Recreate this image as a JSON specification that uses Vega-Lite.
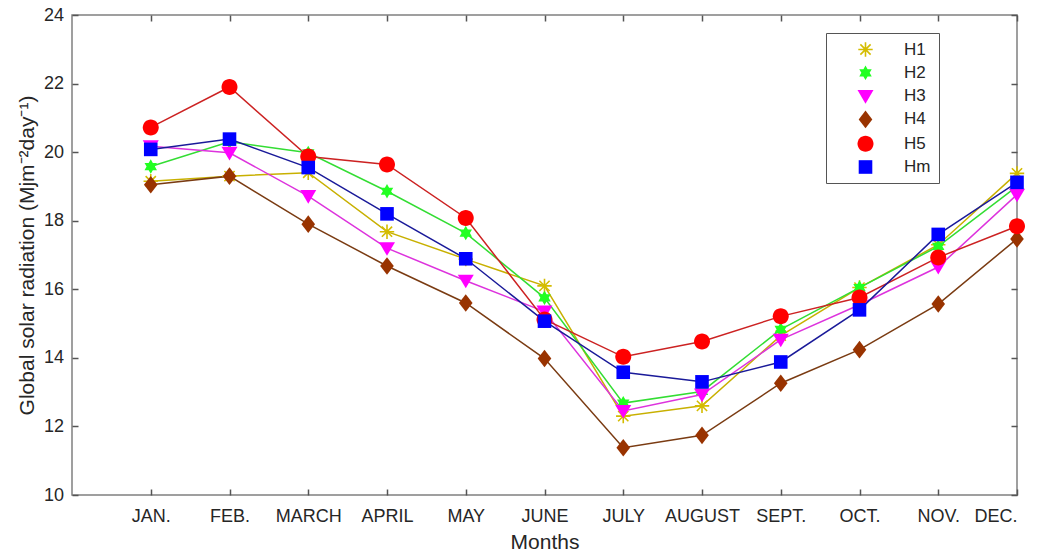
{
  "$schema": "https://vega.github.io/schema/vega-lite/v6.json",
  "width": 945,
  "height": 480,
  "autosize": {"type": "none"},
  "padding": {"left": 72, "top": 15, "right": 22, "bottom": 58},
  "background": "white",
  "config": {
    "view": {"stroke": "#808080", "strokeWidth": 1.5},
    "font": "Liberation Sans",
    "axis": {"grid": false, "domain": false, "labelColor": "#262626", "titleColor": "#262626", "labelFont": "Liberation Sans", "titleFont": "Liberation Sans", "labelFontSize": 18, "titleFontSize": 21, "titleFontWeight": "normal"},
    "legend": {"labelFont": "Liberation Sans", "labelFontSize": 17, "labelColor": "#262626"}
  },
  "data": {"values": [
    {"month": 1, "series": "H1", "value": 19.15}, {"month": 2, "series": "H1", "value": 19.3}, {"month": 3, "series": "H1", "value": 19.4}, {"month": 4, "series": "H1", "value": 17.68}, {"month": 5, "series": "H1", "value": 16.88}, {"month": 6, "series": "H1", "value": 16.1}, {"month": 7, "series": "H1", "value": 12.3}, {"month": 8, "series": "H1", "value": 12.6}, {"month": 9, "series": "H1", "value": 14.65}, {"month": 10, "series": "H1", "value": 16.05}, {"month": 11, "series": "H1", "value": 17.3}, {"month": 12, "series": "H1", "value": 19.38},
    {"month": 1, "series": "H2", "value": 19.58}, {"month": 2, "series": "H2", "value": 20.3}, {"month": 3, "series": "H2", "value": 19.98}, {"month": 4, "series": "H2", "value": 18.86}, {"month": 5, "series": "H2", "value": 17.64}, {"month": 6, "series": "H2", "value": 15.75}, {"month": 7, "series": "H2", "value": 12.68}, {"month": 8, "series": "H2", "value": 13.02}, {"month": 9, "series": "H2", "value": 14.83}, {"month": 10, "series": "H2", "value": 16.05}, {"month": 11, "series": "H2", "value": 17.25}, {"month": 12, "series": "H2", "value": 19.0},
    {"month": 1, "series": "H3", "value": 20.17}, {"month": 2, "series": "H3", "value": 19.98}, {"month": 3, "series": "H3", "value": 18.72}, {"month": 4, "series": "H3", "value": 17.2}, {"month": 5, "series": "H3", "value": 16.25}, {"month": 6, "series": "H3", "value": 15.35}, {"month": 7, "series": "H3", "value": 12.45}, {"month": 8, "series": "H3", "value": 12.93}, {"month": 9, "series": "H3", "value": 14.53}, {"month": 10, "series": "H3", "value": 15.55}, {"month": 11, "series": "H3", "value": 16.65}, {"month": 12, "series": "H3", "value": 18.76},
    {"month": 1, "series": "H4", "value": 19.05}, {"month": 2, "series": "H4", "value": 19.3}, {"month": 3, "series": "H4", "value": 17.9}, {"month": 4, "series": "H4", "value": 16.68}, {"month": 5, "series": "H4", "value": 15.6}, {"month": 6, "series": "H4", "value": 13.98}, {"month": 7, "series": "H4", "value": 11.38}, {"month": 8, "series": "H4", "value": 11.74}, {"month": 9, "series": "H4", "value": 13.26}, {"month": 10, "series": "H4", "value": 14.24}, {"month": 11, "series": "H4", "value": 15.57}, {"month": 12, "series": "H4", "value": 17.47},
    {"month": 1, "series": "H5", "value": 20.72}, {"month": 2, "series": "H5", "value": 21.9}, {"month": 3, "series": "H5", "value": 19.87}, {"month": 4, "series": "H5", "value": 19.64}, {"month": 5, "series": "H5", "value": 18.08}, {"month": 6, "series": "H5", "value": 15.12}, {"month": 7, "series": "H5", "value": 14.03}, {"month": 8, "series": "H5", "value": 14.48}, {"month": 9, "series": "H5", "value": 15.21}, {"month": 10, "series": "H5", "value": 15.76}, {"month": 11, "series": "H5", "value": 16.93}, {"month": 12, "series": "H5", "value": 17.84},
    {"month": 1, "series": "Hm", "value": 20.08}, {"month": 2, "series": "Hm", "value": 20.38}, {"month": 3, "series": "Hm", "value": 19.55}, {"month": 4, "series": "Hm", "value": 18.2}, {"month": 5, "series": "Hm", "value": 16.89}, {"month": 6, "series": "Hm", "value": 15.07}, {"month": 7, "series": "Hm", "value": 13.58}, {"month": 8, "series": "Hm", "value": 13.3}, {"month": 9, "series": "Hm", "value": 13.88}, {"month": 10, "series": "Hm", "value": 15.4}, {"month": 11, "series": "Hm", "value": 17.6}, {"month": 12, "series": "Hm", "value": 19.12}
  ]},
  "layer": [
    {
      "mark": {"type": "line", "strokeWidth": 1.5},
      "encoding": {
        "x": {"field": "month", "type": "quantitative", "scale": {"domain": [0, 12], "nice": false, "zero": false},
          "axis": {"orient": "bottom", "values": [1,2,3,4,5,6,7,8,9,10,11,12], "labelExpr": "['JAN.','FEB.','MARCH','APRIL','MAY','JUNE','JULY','AUGUST','SEPT.','OCT.','NOV.','DEC.'][datum.value-1]", "title": "Months", "ticks": true, "tickSize": 6, "offset": -6, "tickColor": "#555555", "tickWidth": 1.5, "labelPadding": 12, "titlePadding": 6}},
        "y": {"field": "value", "type": "quantitative", "scale": {"domain": [10, 24], "nice": false, "zero": false},
          "axis": {"orient": "left", "values": [10,12,14,16,18,20,22,24], "title": "Global solar radiation (Mjm⁻²day⁻¹)", "ticks": true, "tickSize": 6, "offset": -6, "tickColor": "#555555", "tickWidth": 1.5, "labelPadding": 8.5, "titlePadding": 6}},
        "stroke": {"field": "series", "type": "nominal",
          "scale": {"domain": ["H1","H2","H3","H4","H5","Hm"], "range": ["#c8b000","#33dd33","#dd33dd","#7a3b12","#cc2222","#1a1a99"]},
          "legend": null}
      }
    },
    {
      "mark": {"type": "point", "filled": true, "size": 256, "opacity": 1, "strokeWidth": 0},
      "encoding": {
        "x": {"field": "month", "type": "quantitative",
          "axis": {"orient": "top", "values": [1,2,3,4,5,6,7,8,9,10,11,12], "labels": false, "title": null, "ticks": true, "tickSize": 6, "offset": -6, "tickColor": "#555555", "tickWidth": 1.5}},
        "y": {"field": "value", "type": "quantitative",
          "axis": {"orient": "right", "values": [10,12,14,16,18,20,22,24], "labels": false, "title": null, "ticks": true, "tickSize": 6, "offset": -6, "tickColor": "#555555", "tickWidth": 1.5}},
        "fill": {"field": "series", "type": "nominal",
          "scale": {"range": ["#d4bc00","#22ff22","#ff00ff","#993300","#ff0000","#0000ff"]},
          "legend": {"orient": "none", "legendX": 754, "legendY": 18, "title": null, "symbolSize": 256, "symbolOpacity": 1, "symbolStrokeWidth": 0, "padding": 8, "rowPadding": 5.3, "symbolOffset": 23, "labelOffset": 30, "strokeColor": "#555555", "cornerRadius": 0}},
        "shape": {"field": "series", "type": "nominal",
          "scale": {"range": [
            "M-0.1,-0.9H0.1V0.9H-0.1ZM-0.9,-0.1H0.9V0.1H-0.9ZM-0.57,-0.71L0.71,0.57L0.57,0.71L-0.71,-0.57ZM0.57,-0.71L0.71,-0.57L-0.57,0.71L-0.71,0.57Z",
            "M0,-0.9L0.26,-0.45L0.779,-0.45L0.52,0L0.779,0.45L0.26,0.45L0,0.9L-0.26,0.45L-0.779,0.45L-0.52,0L-0.779,-0.45L-0.26,-0.45Z",
            "M-1,-0.75H1L0,0.95Z",
            "M0,-1.1L0.85,0L0,1.1L-0.85,0Z",
            "M1,0A1,1,0,1,1,-1,0A1,1,0,1,1,1,0Z",
            "M-0.85,-0.85H0.85V0.85H-0.85Z"
          ]},
          "legend": {"orient": "none", "legendX": 754, "legendY": 18, "title": null, "symbolSize": 256, "symbolOpacity": 1, "symbolStrokeWidth": 0, "padding": 8, "rowPadding": 5.3, "symbolOffset": 23, "labelOffset": 30, "strokeColor": "#555555", "cornerRadius": 0}}
      }
    }
  ]
}
